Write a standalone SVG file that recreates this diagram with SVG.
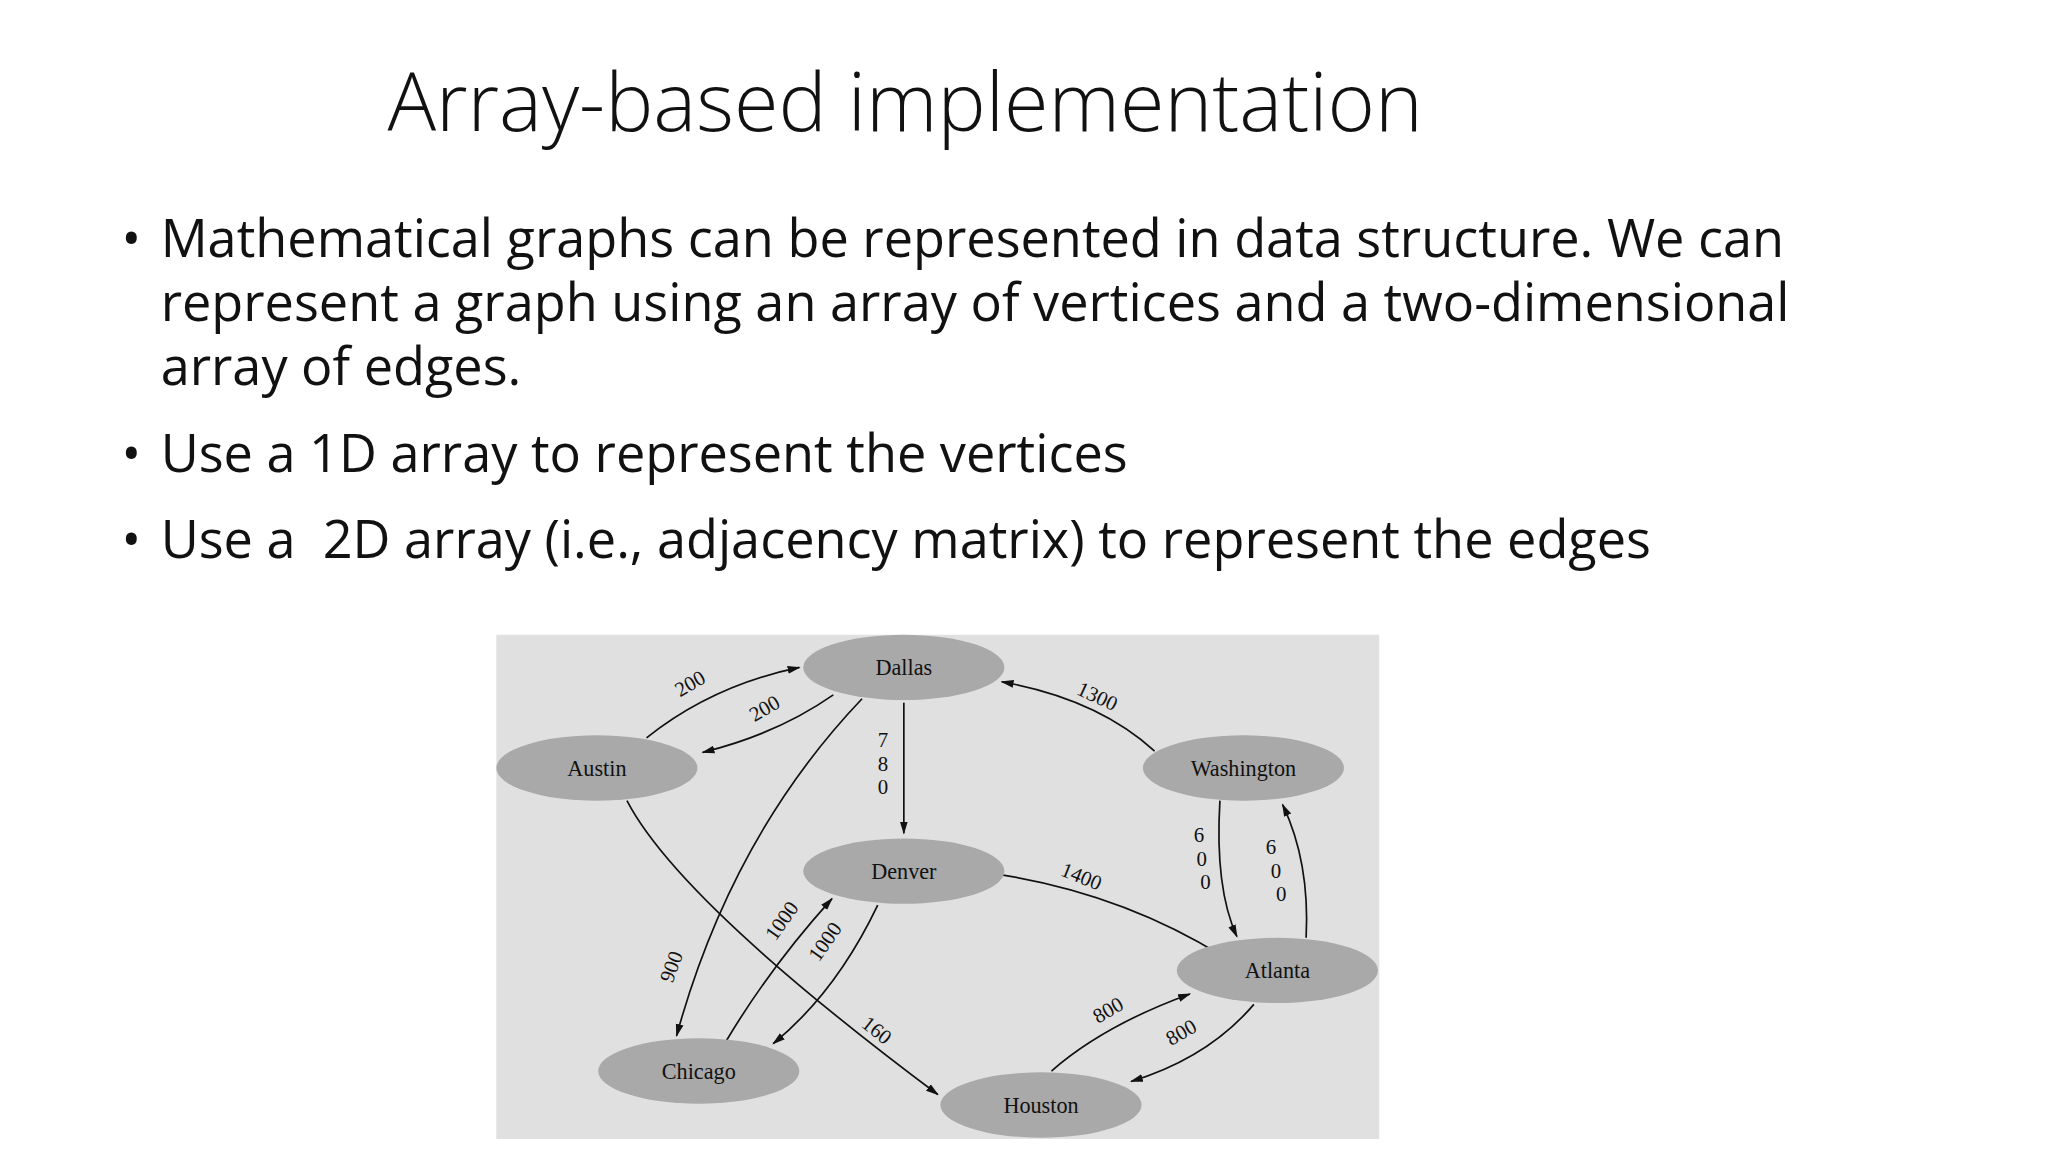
<svg xmlns="http://www.w3.org/2000/svg" width="2048" height="1152" viewBox="0 0 2048 1152">
<style>
.t{font-family:"Open Sans","Liberation Sans",sans-serif;fill:#111}
.b{font-size:40px}
.n{fill:#a9a9a9}
.nl{font-family:"Liberation Serif",serif;font-size:17px;text-anchor:middle;fill:#111}
.e{fill:none;stroke:#111;stroke-width:1.3;marker-end:url(#a)}
.l{font-family:"Liberation Serif",serif;font-size:16px;text-anchor:middle;fill:#111}
</style>
<defs><marker id="a" markerWidth="10" markerHeight="8" refX="9" refY="4" orient="auto" markerUnits="userSpaceOnUse"><path d="M0,1 L10,4 L0,7 Z" fill="#111"/></marker></defs>
<rect width="2048" height="1152" fill="#fff"/>
<g transform="scale(1.30612)">
<text class="t" x="693" y="100" font-size="62" font-weight="300" text-anchor="middle">Array-based implementation</text>
<g class="t b">
<text x="93" y="197">•</text><text x="123" y="197">Mathematical graphs can be represented in data structure. We can</text>
<text x="123" y="246">represent a graph using an array of vertices and a two-dimensional</text>
<text x="123" y="295">array of edges.</text>
<text x="93" y="361">•</text><text x="123" y="361">Use a 1D array to represent the vertices</text>
<text x="93" y="427">•</text><text x="123" y="427" xml:space="preserve">Use a  2D array (i.e., adjacency matrix) to represent the edges</text>
</g>
<rect x="380" y="486" width="676" height="386" fill="#e0e0e0"/>
<g id="connectors">
<path class="e" d="M495,565 Q545,525 612,511"/>
<path class="e" d="M638,532 Q595,562 538,576"/>
<path class="e" d="M692,538 L692,638"/>
<path class="e" d="M884,575 Q840,535 767,522"/>
<path class="e" d="M660,535 Q560,640 518,793"/>
<path class="e" d="M480,613 Q520,690 718,838"/>
<path class="e" d="M556,797 Q590,740 637,688"/>
<path class="e" d="M672,693 Q640,760 592,799"/>
<path class="e" d="M768,670 Q860,685 936,732"/>
<path class="e" d="M934,613 Q930,680 947,717"/>
<path class="e" d="M1000,718 Q1003,660 982,616"/>
<path class="e" d="M805,820 Q845,785 911,761"/>
<path class="e" d="M960,769 Q925,810 866,828"/>
<g class="l">
<text transform="translate(531,528) rotate(-30)">200</text>
<text transform="translate(588,547) rotate(-30)">200</text>
<text x="676" y="572">7</text><text x="676" y="590">8</text><text x="676" y="608">0</text>
<text transform="translate(838,538) rotate(25)">1300</text>
<text transform="translate(519,742) rotate(-70)">900</text>
<text transform="translate(668,793) rotate(38)">160</text>
<text transform="translate(603,708) rotate(-55)">1000</text>
<text transform="translate(636,724) rotate(-55)">1000</text>
<text transform="translate(826,676) rotate(22)">1400</text>
<text x="918" y="645">6</text><text x="920" y="663">0</text><text x="923" y="681">0</text>
<text x="973" y="654">6</text><text x="977" y="672">0</text><text x="981" y="690">0</text>
<text transform="translate(851,778) rotate(-30)">800</text>
<text transform="translate(907,795) rotate(-30)">800</text>
</g>
</g>
<g id="dallas"><ellipse class="n" cx="692" cy="511" rx="77" ry="25"/><text class="nl" x="692" y="517">Dallas</text></g>
<g id="austin"><ellipse class="n" cx="457" cy="588" rx="77" ry="25"/><text class="nl" x="457" y="594">Austin</text></g>
<g id="washington"><ellipse class="n" cx="952" cy="588" rx="77" ry="25"/><text class="nl" x="952" y="594">Washington</text></g>
<g id="denver"><ellipse class="n" cx="692" cy="667" rx="77" ry="25"/><text class="nl" x="692" y="673">Denver</text></g>
<g id="atlanta"><ellipse class="n" cx="978" cy="743" rx="77" ry="25"/><text class="nl" x="978" y="749">Atlanta</text></g>
<g id="chicago"><ellipse class="n" cx="535" cy="820" rx="77" ry="25"/><text class="nl" x="535" y="826">Chicago</text></g>
<g id="houston"><ellipse class="n" cx="797" cy="846" rx="77" ry="25"/><text class="nl" x="797" y="852">Houston</text></g>
</g>
</svg>
